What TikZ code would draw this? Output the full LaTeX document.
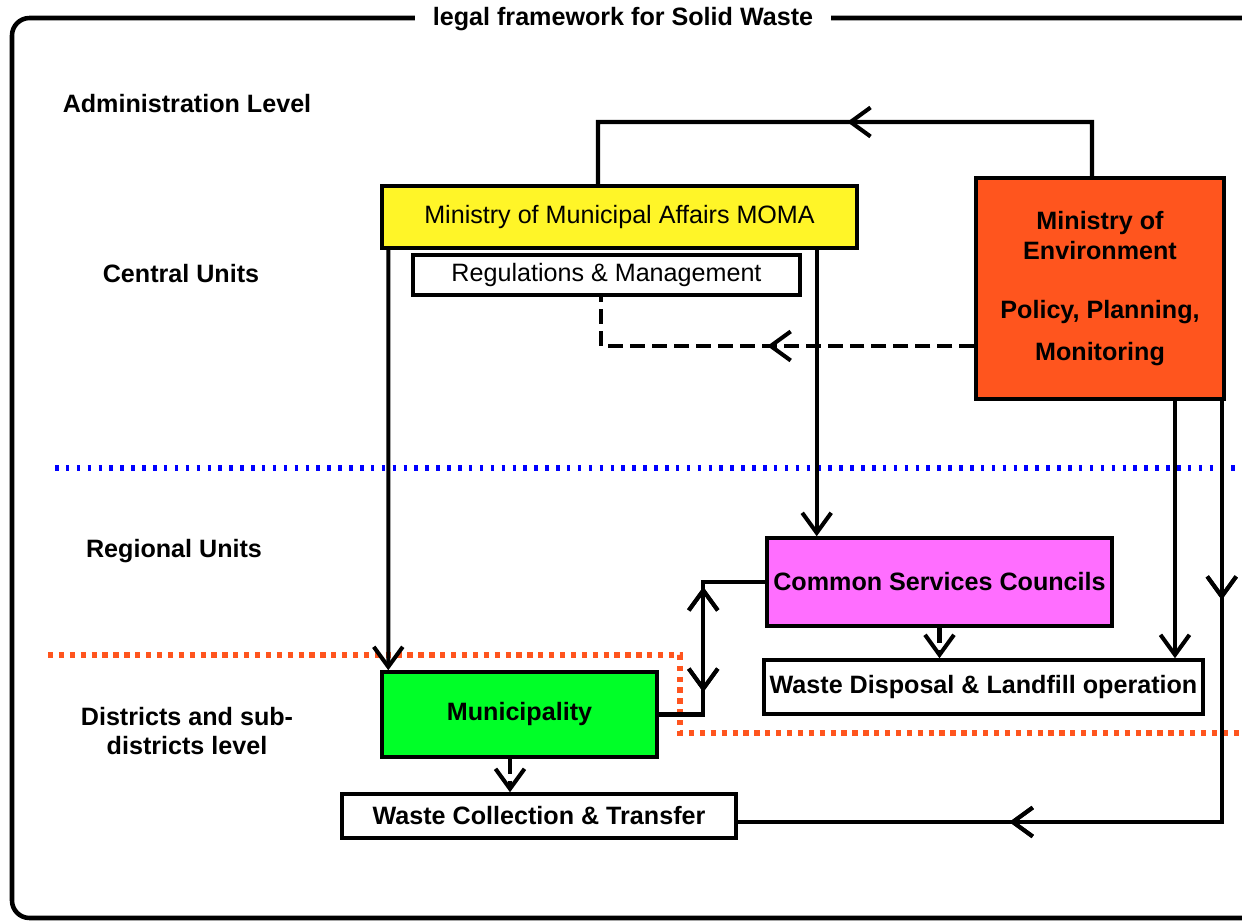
\documentclass[tikz,border=0pt]{standalone}
\usepackage{fontspec}
\setmainfont{Liberation Sans}
\usetikzlibrary{arrows.meta,decorations.markings}

\definecolor{momayellow}{RGB}{255,245,40}
\definecolor{moered}{RGB}{255,85,30}
\definecolor{cscpink}{RGB}{255,110,255}
\definecolor{munigreen}{RGB}{0,255,40}

\def\barb{Straight Barb[length=0.4cm,width=0.58cm]}

\begin{document}
\begin{tikzpicture}[x=0.02cm,y=-0.02cm]
\tikzset{
  txt/.style={font=\fontsize{14.3}{17}\selectfont},
  btxt/.style={font=\fontsize{14.3}{17}\selectfont\bfseries},
  box/.style={draw, line width=2pt, inner sep=0pt},
  link/.style={line width=2.3pt},
  tip/.style={link, -{\barb}},
  mid/.style={postaction={decorate}, decoration={markings, mark=at position #1 with {\arrow{\barb}}}},
  midback/.style={postaction={decorate}, decoration={markings, mark=at position #1 with {\arrowreversed{\barb}}}},
  dash line/.style={link, dash pattern=on 8.5pt off 4pt}
}
\useasboundingbox (0,0) rectangle (1242,922);
\clip (0,0) rectangle (1242,922);

% frame and title
\draw[line width=2.6pt, rounded corners=0.35cm] (12,18) rectangle (1300,918);
\node[btxt, fill=white, inner xsep=0.36cm, inner ysep=2pt] (title) at (623,19) {legal framework for Solid Waste};

% level names
\node[btxt] (adminlvl) at (187,104) {Administration Level};
\node[btxt] (central) at (181,274) {Central Units};
\node[btxt] (regional) at (174,551) {Regional Units};
\node[btxt, align=center] (district) at (187,731) {Districts and sub-\\districts level};

% level separators
\draw[blue, line width=3.5pt, dash pattern=on 2pt off 4.2pt] (55,468) -- (1250,468);
\draw[moered, line width=3.2pt, dash pattern=on 3pt off 3.2pt] (48,655) -- (680,655) -- (680,733) -- (1250,733);

% units
\node[box, txt, fill=momayellow, minimum width=9.5cm, minimum height=1.24cm] (moma) at (619.5,217) {\raisebox{-3pt}{Ministry of Municipal Affairs MOMA}};
\node[box, txt, fill=white, minimum width=7.74cm, minimum height=0.8cm] (regs) at (606.5,275) {Regulations \& Management};
\node[box, btxt, fill=moered, minimum width=4.96cm, minimum height=4.42cm, align=center] (moe) at (1100,288.5)
  {Ministry of\\Environment\\[0.58cm]Policy, Planning,\\[0.24cm]Monitoring};
\node[box, btxt, fill=cscpink, minimum width=6.9cm, minimum height=1.76cm] (csc) at (939.5,582) {Common Services Councils};
\node[box, btxt, fill=white, minimum width=8.78cm, minimum height=1.08cm] (disposal) at (983.5,687) {Waste Disposal \& Landfill operation};
\node[box, btxt, fill=munigreen, minimum width=5.5cm, minimum height=1.7cm] (muni) at (519.5,714.5) {Municipality};
\node[box, btxt, fill=white, minimum width=7.88cm, minimum height=0.88cm] (collect) at (539,816) {Waste Collection \& Transfer};

% links
\coordinate (topbend) at (598,122);
\draw[link, mid=0.49] ([xshift=-0.16cm]moe.north) |- (topbend) -- ([xshift=-0.43cm]moma.north);
\draw[dash line, mid=0.49] ([yshift=-1.15cm]moe.west) -| ([xshift=-0.11cm]regs.south);
\draw[tip] ([xshift=0.16cm]moma.south west) -- ([xshift=0.16cm]muni.north west);
\draw[tip] ([xshift=-0.84cm]moma.south east) -- ([xshift=-0.84cm]moma.south east |- csc.north);
\draw[tip, dash line] (csc.south) -- (csc.south |- disposal.north);
\draw[tip, dash line] ([xshift=-0.19cm]muni.south) -- ([xshift=-0.19cm]muni.south |- collect.north);
\draw[tip] ([xshift=1.5cm]moe.south) -- ([xshift=1.5cm]moe.south |- disposal.north);
\draw[link, mid=0.22, mid=0.7] ([xshift=-0.08cm]moe.south east) |- ([yshift=-0.12cm]collect.east);
\draw[link, midback=0.28, mid=0.72] (csc.west) -- ++(-62,0) |- (muni.east);

\end{tikzpicture}
\end{document}
